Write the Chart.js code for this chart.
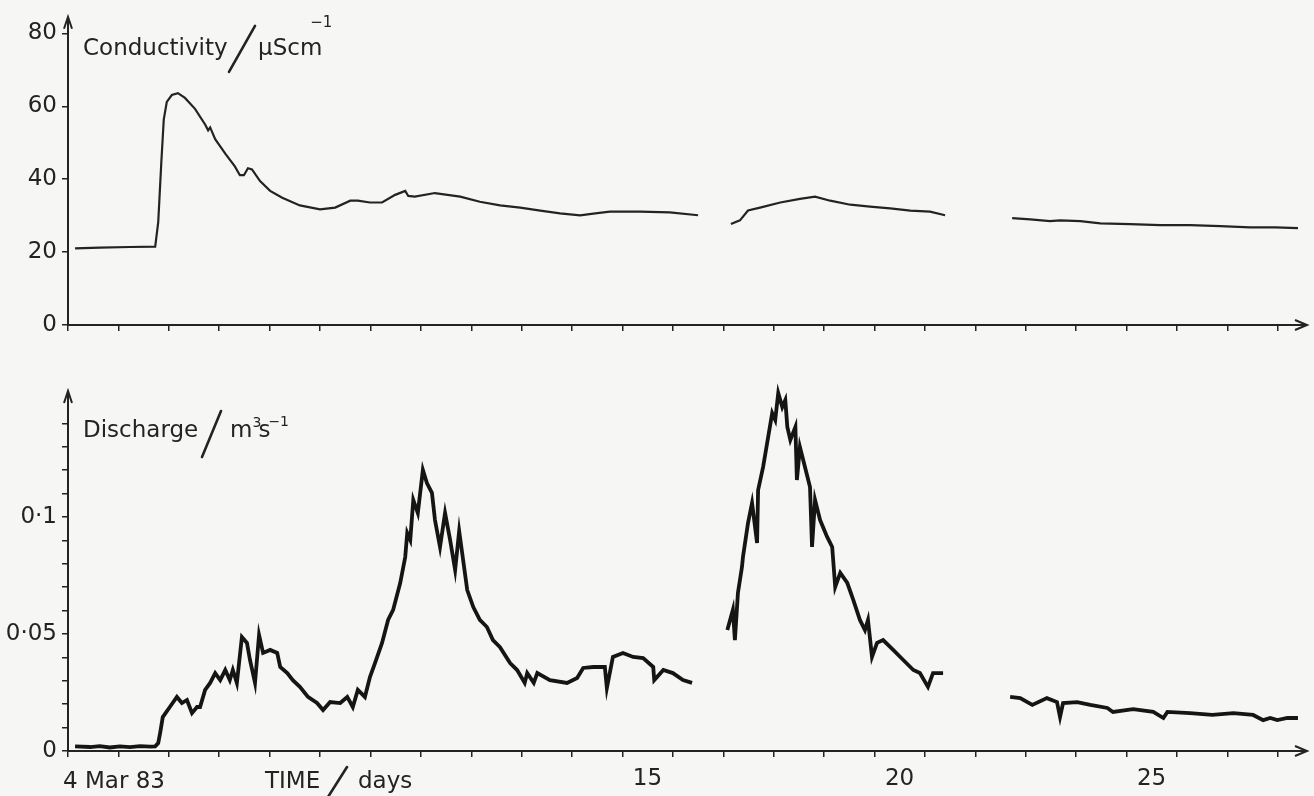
<!DOCTYPE html>
<html>
<head>
<meta charset="utf-8">
<script src="https://cdn.jsdelivr.net/npm/chart.js@4"></script>
<style>
  html, body { margin: 0; padding: 0; background: #f6f7f4; }
  #wrap { position: relative; width: 1314px; height: 796px; }
  canvas { position: absolute; left: 0; }
  #condChart { top: 0; }
  #dischargeChart { top: 345px; }
</style>
</head>
<body>
<div id="wrap">
  <canvas id="condChart" width="1314" height="345"></canvas>
  <canvas id="dischargeChart" width="1314" height="451"></canvas>
</div>
<script>
// time axis in days of March 1983 (4.0 = start of 4 Mar)
const dayTicks = [4, 5, 6, 7, 8, 9, 10, 11, 12, 13, 14, 15, 16, 17, 18, 19, 20, 21, 22, 23, 24, 25, 26, 27, 28];
const xLabelDays = [15, 20, 25];
const xLabelTexts = ['15', '20', '25'];
const startDateLabel = '4 Mar 83';

const condTicks = [0, 20, 40, 60, 80];
const dischargeTicks = [0, 0.01, 0.02, 0.03, 0.04, 0.05, 0.06, 0.07, 0.08, 0.09, 0.1, 0.11, 0.12, 0.13, 0.14];
const dischargeTickLabels = ['0', '', '', '', '', '0·05', '', '', '', '', '0·1', '', '', '', ''];

// conductivity (uS/cm), null = gap in the record
const condDays = [
  4.14, 4.63, 5.23, 5.73, 5.79, 5.85, 5.90, 5.96, 6.06, 6.18, 6.32, 6.52, 6.72, 6.78, 6.82, 6.92,
  7.12, 7.31, 7.41, 7.49, 7.57, 7.65, 7.81, 8.01, 8.25, 8.60, 9.00, 9.30, 9.60, 9.75, 9.99, 10.23,
  10.49, 10.69, 10.75, 10.88, 11.28, 11.78, 12.17, 12.57, 12.97, 13.37, 13.76, 14.16, 14.46, 14.75,
  15.35, 15.94, 16.50,
  16.80,
  17.15, 17.33, 17.49, 17.73, 18.13, 18.52, 18.82, 19.12, 19.52, 19.91, 20.31, 20.71, 21.10, 21.40,
  22.00,
  22.73, 23.09, 23.48, 23.68, 24.08, 24.48, 25.07, 25.67, 26.26, 26.86, 27.45, 27.95, 28.40
];
const condValues = [
  21.0, 21.2, 21.4, 21.5, 28.2, 44.3, 56.4, 61.2, 63.1, 63.6, 62.3, 59.3, 55.0, 53.4, 54.2, 51.0,
  47.0, 43.5, 41.1, 41.1, 43.0, 42.7, 39.5, 36.8, 34.9, 32.8, 31.7, 32.2, 34.1, 34.1, 33.6, 33.6,
  35.7, 36.8, 35.4, 35.2, 36.2, 35.2, 33.8, 32.8, 32.2, 31.4, 30.6, 30.1, 30.6, 31.1,
  31.1, 30.9, 30.1,
  null,
  27.7, 28.7, 31.4, 32.2, 33.6, 34.6, 35.2, 34.1, 33.0, 32.5, 32.0, 31.4, 31.1, 30.1,
  null,
  29.3, 29.0, 28.5, 28.7, 28.5, 27.9, 27.7, 27.4, 27.4, 27.1, 26.8, 26.8, 26.6
];

// discharge (m3/s)
const dischargeDays = [
  4.14, 4.44, 4.63, 4.83, 5.03, 5.23, 5.43, 5.63, 5.73, 5.79,
  5.83, 5.88, 6.02, 6.16, 6.26, 6.36, 6.46, 6.56, 6.62, 6.72,
  6.82, 6.92, 7.02, 7.12, 7.21, 7.27, 7.35, 7.45, 7.55, 7.61,
  7.71, 7.79, 7.87, 8.01, 8.15, 8.21, 8.35, 8.46, 8.60, 8.76,
  8.94, 9.06, 9.20, 9.40, 9.54, 9.65, 9.75, 9.89, 9.99, 10.09,
  10.23, 10.35, 10.45, 10.59, 10.69, 10.73, 10.79, 10.85, 10.94, 11.04,
  11.12, 11.22, 11.28, 11.38, 11.48, 11.58, 11.68, 11.76, 11.92, 12.04,
  12.17, 12.31, 12.43, 12.57, 12.77, 12.91, 13.06, 13.11, 13.24, 13.31, 13.56, 13.90,
  14.10, 14.22, 14.42, 14.65, 14.69, 14.81, 15.01, 15.21, 15.41, 15.61,
  15.63, 15.81, 16.00, 16.20, 16.38,
  16.75,
  17.08, 17.19, 17.23, 17.29, 17.37, 17.39, 17.49, 17.57, 17.67, 17.69,
  17.79, 17.89, 17.97, 18.03, 18.09, 18.17, 18.23, 18.27, 18.33, 18.43,
  18.46, 18.52, 18.62, 18.72, 18.76, 18.82, 18.92, 19.06, 19.16, 19.22,
  19.32, 19.46, 19.58, 19.71, 19.81, 19.87, 19.95, 20.05, 20.17, 20.37,
  20.57, 20.77, 20.90, 21.06, 21.16, 21.36,
  22.00,
  22.69, 22.89, 23.13, 23.42, 23.62, 23.68, 23.74, 24.02, 24.28, 24.62,
  24.73, 25.13, 25.53, 25.73, 25.81, 26.26, 26.70, 27.12, 27.51, 27.71,
  27.85, 27.99, 28.19, 28.40
];
const dischargeValues = [
  0.002, 0.0017, 0.0021, 0.0015, 0.002, 0.0017, 0.0021, 0.0019, 0.002, 0.0034,
  0.008, 0.0145, 0.0188, 0.0231, 0.0205, 0.0218, 0.0162, 0.0188, 0.0188, 0.0261,
  0.0291, 0.0333, 0.0303, 0.0346, 0.0303, 0.0346, 0.0291, 0.0487, 0.0462, 0.0389,
  0.0291, 0.0496, 0.0419, 0.0432, 0.0419, 0.0359, 0.0333, 0.0303, 0.0274, 0.0231,
  0.0205, 0.0175, 0.0209, 0.0205, 0.0231, 0.0188, 0.0261, 0.0231, 0.0316, 0.0376,
  0.0462, 0.0560, 0.0603, 0.0718, 0.0829, 0.0932, 0.0902, 0.1073, 0.1017, 0.1201,
  0.1145, 0.1103, 0.0987, 0.0872, 0.1017, 0.0902, 0.0774, 0.094, 0.0688, 0.0615,
  0.0560, 0.0530, 0.0474, 0.0444, 0.0376, 0.0346, 0.0291, 0.0333, 0.0291, 0.0333, 0.0303, 0.0291,
  0.0312, 0.0355, 0.0359, 0.0359, 0.0269, 0.0402, 0.0419, 0.0402, 0.0397, 0.0359,
  0.0303, 0.0346, 0.0333, 0.0303, 0.0291,
  null,
  0.0517, 0.0603, 0.0474, 0.0675, 0.0786, 0.0829, 0.0974, 0.1060, 0.0889, 0.1115,
  0.1214, 0.1342, 0.1444, 0.1415, 0.1530, 0.1470, 0.1500, 0.1385, 0.1329, 0.1385,
  0.1158, 0.1299, 0.1214, 0.1128, 0.0872, 0.1073, 0.0987, 0.0915, 0.0872, 0.0701,
  0.0761, 0.0718, 0.0645, 0.0560, 0.0517, 0.0560, 0.0402, 0.0462, 0.0474, 0.0432,
  0.0389, 0.0346, 0.0333, 0.0274, 0.0333, 0.0333,
  null,
  0.0231, 0.0226, 0.0197, 0.0226, 0.0209, 0.0145, 0.0205, 0.0209, 0.0197, 0.0184,
  0.0167, 0.0179, 0.0167, 0.0141, 0.0167, 0.0162, 0.0154, 0.0162, 0.0154, 0.0132,
  0.0141, 0.0132, 0.0141, 0.0141
];

const ink = '#232323';
const font = "'DejaVu Sans', 'Liberation Sans', sans-serif";

const toPoints = (xs, ys) => xs.map((x, i) => ({ x: x, y: ys[i] }));

function slash(ctx, x1, y1, x2, y2) {
  ctx.save();
  ctx.lineWidth = 2.6;
  ctx.lineCap = 'round';
  ctx.beginPath();
  ctx.moveTo(x1, y1);
  ctx.lineTo(x2, y2);
  ctx.stroke();
  ctx.restore();
}

// arrow heads on both axes plus the hand-lettered axis titles
function decorations(drawTitle) {
  return {
    id: 'decorations',
    afterDraw(chart) {
      const { ctx, chartArea: a } = chart;
      ctx.save();
      ctx.strokeStyle = ink;
      ctx.fillStyle = ink;
      ctx.lineWidth = 2;
      ctx.beginPath();
      ctx.moveTo(a.left - 4, a.top + 10);
      ctx.lineTo(a.left, a.top - 2);
      ctx.lineTo(a.left + 4, a.top + 10);
      ctx.moveTo(a.left, a.top);
      ctx.lineTo(a.left, a.top - 2);
      ctx.moveTo(a.right, a.bottom);
      ctx.lineTo(a.right + 4, a.bottom);
      ctx.moveTo(a.right - 8, a.bottom - 5);
      ctx.lineTo(a.right + 4, a.bottom);
      ctx.lineTo(a.right - 8, a.bottom + 5);
      ctx.stroke();
      ctx.textAlign = 'left';
      ctx.textBaseline = 'alphabetic';
      drawTitle(chart, ctx, a);
      ctx.restore();
    }
  };
}

function condTitle(chart, ctx, a) {
  const base = a.top + 36;
  ctx.font = '23px ' + font;
  ctx.fillText('Conductivity', a.left + 15, base);
  slash(ctx, a.left + 161, a.top + 53, a.left + 187, a.top + 7);
  ctx.fillText('μScm', a.left + 190, base);
  const w = ctx.measureText('μScm').width;
  ctx.font = '15px ' + font;
  ctx.fillText('−1', a.left + 190 + w - 12, a.top + 8);
}

function dischargeTitle(chart, ctx, a) {
  const base = a.top + 44;
  ctx.font = '23px ' + font;
  ctx.fillText('Discharge', a.left + 15, base);
  slash(ctx, a.left + 134, a.top + 64, a.left + 153, a.top + 18);
  const mx = a.left + 162;
  ctx.fillText('m', mx, base);
  const mw = ctx.measureText('m').width;
  ctx.fillText('s', mx + mw + 6, base);
  const sw = ctx.measureText('s').width;
  ctx.font = '14px ' + font;
  ctx.fillText('3', mx + mw, a.top + 34);
  ctx.fillText('−1', mx + mw + 4 + sw, a.top + 33);

  // time axis title and start date
  const tb = a.bottom + 37;
  ctx.font = '23px ' + font;
  ctx.fillText(startDateLabel, chart.scales.x.getPixelForValue(dayTicks[0]) - 5, tb);
  ctx.fillText('TIME', a.left + 197, tb);
  slash(ctx, a.left + 260, a.bottom + 46, a.left + 279, a.bottom + 16);
  ctx.fillText('days', a.left + 290, tb);
}

function xAxis(showLabels) {
  return {
    type: 'linear',
    min: 4,
    max: 28.5,
    afterBuildTicks: s => { s.ticks = dayTicks.map(v => ({ value: v })); },
    afterFit: s => { s.height = showLabels ? 45 : 20; },
    grid: { drawOnChartArea: false, drawTicks: true, tickLength: 6, color: ink, lineWidth: 1.5 },
    border: { display: true, color: ink, width: 2 },
    ticks: {
      autoSkip: false,
      maxRotation: 0,
      labelOffset: 25,
      padding: 8,
      color: ink,
      font: { family: font, size: 23 },
      callback: v => {
        const i = xLabelDays.indexOf(v);
        return showLabels && i >= 0 ? xLabelTexts[i] : '';
      }
    }
  };
}

function yAxis(max, ticks, labels) {
  return {
    min: 0,
    max: max,
    afterBuildTicks: s => { s.ticks = ticks.map(v => ({ value: v })); },
    afterFit: s => { s.width = 68; },
    grid: { drawOnChartArea: false, drawTicks: true, tickLength: 6, color: ink, lineWidth: 1.5 },
    border: { display: true, color: ink, width: 2 },
    ticks: {
      autoSkip: false,
      padding: 5,
      color: ink,
      font: { family: font, size: 23 },
      callback: (v, i) => labels[i]
    }
  };
}

const baseOptions = (padTop) => ({
  responsive: false,
  animation: false,
  layout: { padding: { left: 0, top: padTop, right: 11, bottom: 0 } },
  plugins: { legend: { display: false }, tooltip: { enabled: false } },
  elements: { point: { radius: 0 }, line: { tension: 0 } }
});

new Chart(document.getElementById('condChart'), {
  type: 'line',
  data: {
    datasets: [{
      data: toPoints(condDays, condValues),
      borderColor: ink,
      borderWidth: 2.2,
      spanGaps: false,
      clip: false
    }]
  },
  options: Object.assign(baseOptions(12), {
    scales: {
      x: xAxis(false),
      y: yAxis(84, condTicks, condTicks.map(String))
    }
  }),
  plugins: [decorations(condTitle)]
});

new Chart(document.getElementById('dischargeChart'), {
  type: 'line',
  data: {
    datasets: [{
      data: toPoints(dischargeDays, dischargeValues),
      borderColor: '#151515',
      borderWidth: 3.8,
      borderJoinStyle: 'miter',
      spanGaps: false,
      clip: false
    }]
  },
  options: Object.assign(baseOptions(48), {
    scales: {
      x: xAxis(true),
      y: yAxis(0.153, dischargeTicks, dischargeTickLabels)
    }
  }),
  plugins: [decorations(dischargeTitle)]
});
</script>
</body>
</html>
